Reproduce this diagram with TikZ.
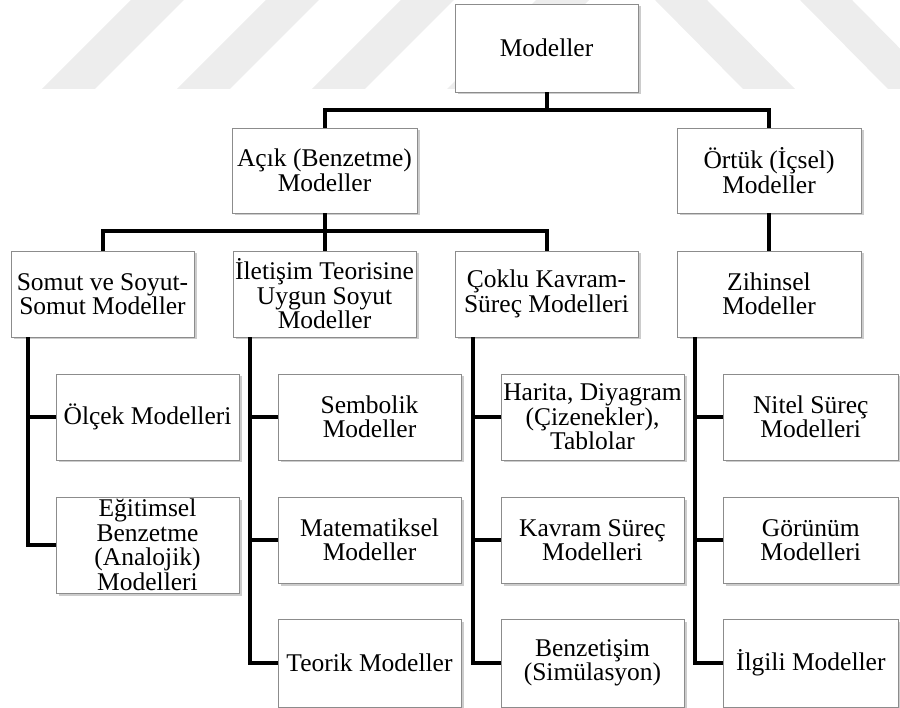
\documentclass[tikz,border=0pt]{standalone}
\usepackage{fontspec}
\setmainfont{Liberation Serif}
\usetikzlibrary{shadows}
\tikzset{
  box/.style={draw=black!45, line width=0.9pt, fill=white, inner sep=0pt,
    align=center, minimum width=183pt, minimum height=86pt,
    font=\fontsize{25.5}{24.5}\selectfont,
    drop shadow={shadow xshift=2.5pt, shadow yshift=-2.5pt, fill=black!40, opacity=0.5}},
  link/.style={line width=4pt, line join=miter},
  stripe/.style={fill=black!7, draw=none}
}
\begin{document}
\begin{tikzpicture}[x=1pt,y=-1pt]
\useasboundingbox (0,0) rectangle (900,708);
% watermark
\foreach \b in {42,177,312,447}
  \fill[stripe] (\b,89) -- (\b+53,89) -- (\b+142,0) -- (\b+89,0) -- cycle;
\foreach \t in {655,800}
  \fill[stripe] (\t,0) -- (\t+52,0) -- (\t+140,89) -- (\t+88,89) -- cycle;
% levels 1-2
\node[box, minimum height=88pt] (modeller) at (546.5,48) {Modeller};
\node[box, minimum width=185pt, minimum height=85pt] (acik) at (324.5,170.5) {Açık (Benzetme)\\Modeller};
\node[box, minimum width=184pt, minimum height=85pt] (ortuk) at (769,170.5) {Örtük (İçsel)\\Modeller};
% level 3
\node[box] (somut) at (102.5,294) {Somut ve Soyut-\\Somut Modeller};
\node[box] (iletisim) at (324.5,294) {İletişim Teorisine\\Uygun Soyut\\Modeller};
\node[box] (coklu) at (546.5,294) {Çoklu Kavram-\\Süreç Modelleri};
\node[box, minimum width=184pt] (zihinsel) at (769,294) {Zihinsel\\Modeller};
% level 4
\node[box] (olcek) at (147.5,417) {Ölçek Modelleri};
\node[box, minimum height=96pt] (egitim) at (147.5,545) {Eğitimsel\\Benzetme\\(Analojik)\\Modelleri};
\node[box] (sembolik) at (369.5,417) {Sembolik\\Modeller};
\node[box] (matematik) at (369.5,540) {Matematiksel\\Modeller};
\node[box, minimum height=88pt] (teorik) at (369.5,663) {Teorik Modeller};
\node[box] (harita) at (592.5,417) {Harita, Diyagram\\(Çizenekler),\\Tablolar};
\node[box] (kavram) at (592.5,540) {Kavram Süreç\\Modelleri};
\node[box, minimum height=88pt] (benzet) at (592.5,663) {Benzetişim\\(Simülasyon)};
\node[box, minimum width=175.5pt] (nitel) at (810.75,417) {Nitel Süreç\\Modelleri};
\node[box, minimum width=175.5pt] (gorunum) at (810.75,540) {Görünüm\\Modelleri};
\node[box, minimum width=175.5pt, minimum height=88pt] (ilgili) at (810.75,663) {İlgili Modeller};
% buses
\path (modeller.south) ++(0,18) coordinate (bus1);
\draw[link] (modeller.south) -- (bus1);
\draw[link] (acik.north) |- (bus1) -| (ortuk.north);
\path (acik.south) ++(0,18) coordinate (bus2);
\draw[link] (acik.south) -- (iletisim.north);
\draw[link] (somut.north) |- (bus2) -| (coklu.north);
\draw[link] (ortuk.south) -- (zihinsel.north);
% spines
\path (somut.south -| olcek.west) ++(-28,0) coordinate (sp1);
\draw[link] (sp1) |- (egitim.west);
\draw[link] (olcek.west) -- (olcek.west -| sp1);
\path (iletisim.south -| sembolik.west) ++(-28,0) coordinate (sp2);
\draw[link] (sp2) |- (teorik.west);
\draw[link] (sembolik.west) -- (sembolik.west -| sp2);
\draw[link] (matematik.west) -- (matematik.west -| sp2);
\path (coklu.south -| harita.west) ++(-28,0) coordinate (sp3);
\draw[link] (sp3) |- (benzet.west);
\draw[link] (harita.west) -- (harita.west -| sp3);
\draw[link] (kavram.west) -- (kavram.west -| sp3);
\path (zihinsel.south -| nitel.west) ++(-28,0) coordinate (sp4);
\draw[link] (sp4) |- (ilgili.west);
\draw[link] (nitel.west) -- (nitel.west -| sp4);
\draw[link] (gorunum.west) -- (gorunum.west -| sp4);
\end{tikzpicture}
\end{document}
